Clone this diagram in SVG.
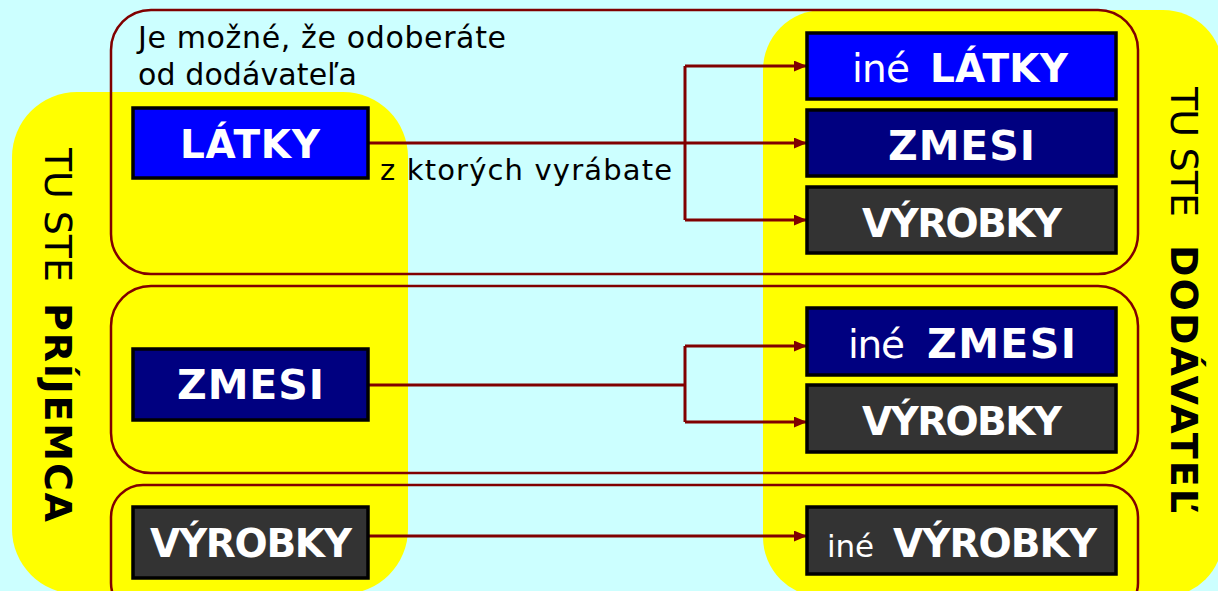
<svg xmlns="http://www.w3.org/2000/svg" width="1218" height="591" viewBox="0 0 1218 591">
<defs>
<style>
.bg{fill:#CCFFFF}
.yel{fill:#FFFF00}
.grp{fill:none;stroke:#800000;stroke-width:2.5}
.n rect{stroke:#000;stroke-width:3.5}
.blue{fill:#0000FF}
.navy{fill:#000080}
.gray{fill:#333333}
.lbl{font-family:"DejaVu Sans",sans-serif;font-size:39px;fill:#fff;font-weight:bold}
.zm{font-size:41px}
.reg{font-weight:normal}
.txt{font-family:"DejaVu Sans",sans-serif;fill:#000}
.conn path{fill:none;stroke:#800000;stroke-width:3}
</style>
<marker id="ah" viewBox="0 0 12 10" refX="12" refY="5" markerWidth="13" markerHeight="11" markerUnits="userSpaceOnUse" orient="auto">
<path d="M0,0 L12,5 L0,10 Z" fill="#800000"/>
</marker>
</defs>
<rect class="bg" x="0" y="0" width="1218" height="591"/>
<rect class="yel" x="12" y="92" width="396" height="502" rx="65"/>
<rect class="yel" x="763" y="10" width="460" height="587" rx="60"/>
<g id="groups">
<rect class="grp" x="111" y="10" width="1027" height="264" rx="40"/>
<rect class="grp" x="111" y="286" width="1027" height="187" rx="40"/>
<rect class="grp" x="111" y="485" width="1027" height="130" rx="32"/>
</g>
<g id="labels" class="txt">
<text x="138" y="48" font-size="30" textLength="368">Je možné, že odoberáte</text>
<text x="138" y="85" font-size="30" textLength="219">od dodávateľa</text>
<text x="380" y="180" font-size="29" textLength="292">z ktorých vyrábate</text>
<g transform="translate(45,148) rotate(90)" font-size="38">
<text x="0" y="0" textLength="134">TU STE</text>
<text x="155" y="0" font-weight="bold" textLength="219">PRÍJEMCA</text>
</g>
<g transform="translate(1171,87) rotate(90)" font-size="38">
<text x="0" y="0" textLength="130">TU STE</text>
<text x="158" y="0" font-weight="bold" textLength="268">DODÁVATEĽ</text>
</g>
</g>
<g id="connectors" class="conn">
<path d="M368,143 H807" marker-end="url(#ah)"/>
<path d="M685,66 V220"/>
<path d="M685,66 H807" marker-end="url(#ah)"/>
<path d="M685,220 H807" marker-end="url(#ah)"/>
<path d="M368,385 H685"/>
<path d="M685,346 V422"/>
<path d="M685,346 H807" marker-end="url(#ah)"/>
<path d="M685,422 H807" marker-end="url(#ah)"/>
<path d="M368,536 H807" marker-end="url(#ah)"/>
</g>
<g id="n-latky" class="n">
<rect class="blue" x="133" y="108" width="235" height="70"/>
<text class="lbl" x="180" y="158" textLength="140">LÁTKY</text>
</g>
<g id="n-zmesi" class="n">
<rect class="navy" x="133" y="349" width="235" height="71"/>
<text class="lbl zm" x="177" y="399" textLength="147">ZMESI</text>
</g>
<g id="n-vyrobky" class="n">
<rect class="gray" x="133" y="507" width="235" height="71"/>
<text class="lbl" x="150" y="557" textLength="202">VÝROBKY</text>
</g>
<g id="n-ine-latky" class="n">
<rect class="blue" x="807" y="33" width="309" height="66"/>
<text class="lbl"><tspan class="reg" x="852" y="82" textLength="58">iné</tspan><tspan x="930" y="82" textLength="138">LÁTKY</tspan></text>
</g>
<g id="n-zmesi-r" class="n">
<rect class="navy" x="807" y="110" width="309" height="66"/>
<text class="lbl zm" x="888" y="160" textLength="147">ZMESI</text>
</g>
<g id="n-vyrobky-r" class="n">
<rect class="gray" x="807" y="187" width="309" height="66"/>
<text class="lbl" x="862" y="237" textLength="200">VÝROBKY</text>
</g>
<g id="n-ine-zmesi" class="n">
<rect class="navy" x="807" y="308" width="309" height="67"/>
<text class="lbl"><tspan class="reg" x="848" y="358" textLength="57">iné</tspan><tspan class="zm" x="927" y="358" textLength="149">ZMESI</tspan></text>
</g>
<g id="n-vyrobky-r2" class="n">
<rect class="gray" x="807" y="385" width="309" height="67"/>
<text class="lbl" x="862" y="435" textLength="200">VÝROBKY</text>
</g>
<g id="n-ine-vyrobky" class="n">
<rect class="gray" x="807" y="507" width="309" height="67"/>
<text class="lbl"><tspan class="reg" x="827" y="557" font-size="31" textLength="47">iné</tspan><tspan x="893" y="557" textLength="204">VÝROBKY</tspan></text>
</g>
</svg>
